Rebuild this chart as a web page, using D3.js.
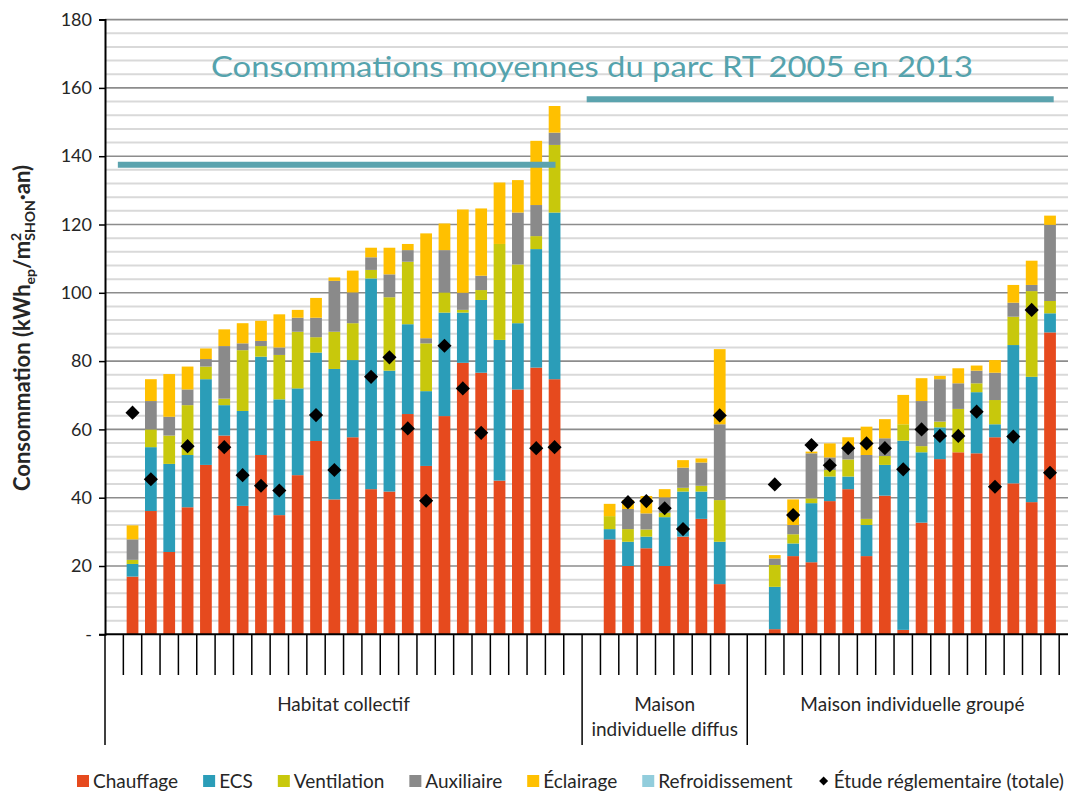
<!DOCTYPE html>
<html>
<head>
<meta charset="utf-8">
<script src="https://cdn.jsdelivr.net/npm/d3@7"></script>
<style>
body { margin: 0; background: #fff; }
text { font-family: Lato, "Open Sans", sans-serif; fill: #262626; }
</style>
</head>
<body>
<svg id="chart" width="1068" height="792"></svg>
<script>
// groups on the category axis
const groupNames = [["Habitat collectif"], ["Maison", "individuelle diffus"], ["Maison individuelle groupé"]];
const groupSizes = [24, 7, 16];

// stacked consumption per bar (kWh_ep/m².an), one value per bar
const chauffage = [
    16.9, 36.1, 24.1, 37.2, 49.6, 58.2, 37.6, 52.5, 34.9, 46.6, 56.6, 39.5,
    57.7, 42.5, 41.8, 64.5, 49.3, 63.9, 79.5, 76.6, 45.0, 71.7, 78.1, 74.7,
    27.8, 20.0, 25.2, 20.0, 28.6, 33.8, 14.7,
    1.5, 22.9, 21.1, 39.0, 42.5, 22.9, 40.6, 1.3, 32.7, 51.3, 53.3, 53.0, 57.7, 44.2, 38.7, 88.4
];
const ecs = [
    3.7, 18.7, 25.8, 15.3, 25.1, 8.9, 27.8, 28.8, 33.9, 25.4, 25.9, 38.2,
    22.6, 61.7, 35.4, 26.3, 21.9, 30.3, 14.7, 21.3, 41.2, 19.4, 34.7, 48.8,
    3.0, 7.1, 3.4, 14.3, 13.2, 8.0, 12.4,
    12.4, 3.7, 17.3, 7.2, 3.7, 9.1, 9.0, 55.4, 20.6, 9.3, 0, 17.9, 3.8, 40.5, 36.7, 5.6
];
const ventilation = [
    1.2, 5.2, 8.3, 14.6, 3.7, 1.9, 17.8, 3.1, 13.0, 16.6, 4.5, 10.9,
    10.8, 2.5, 21.5, 18.3, 14.0, 5.9, 0.8, 2.9, 28.1, 17.2, 3.8, 19.8,
    3.8, 3.7, 2.1, 1.3, 1.1, 1.7, 12.2,
    6.4, 2.7, 1.4, 1.9, 5.0, 1.8, 2.6, 4.8, 1.8, 1.7, 12.7, 2.6, 7.1, 8.3, 25.1, 3.6
];
const auxiliaire = [
    6.0, 8.3, 5.5, 4.6, 2.2, 15.4, 2.0, 1.5, 2.2, 4.1, 5.7, 14.9,
    9.0, 3.7, 6.7, 3.4, 1.5, 12.4, 5.0, 4.2, 0, 15.2, 9.1, 3.6,
    0, 5.9, 4.7, 4.5, 5.9, 6.8, 22.2,
    1.9, 2.7, 13.2, 3.7, 2.8, 18.7, 5.2, 0, 13.2, 12.4, 7.5, 3.7, 8.0, 4.1, 1.8, 22.3
];
const eclairage = [
    4.1, 6.4, 12.5, 6.7, 3.1, 4.9, 5.9, 5.9, 9.7, 2.3, 5.8, 1.0,
    6.4, 2.8, 7.8, 1.8, 30.7, 7.8, 24.4, 19.7, 18.0, 9.5, 18.8, 7.8,
    3.6, 2.6, 5.1, 2.4, 2.2, 1.2, 22.0,
    1.0, 7.5, 0.5, 4.1, 3.7, 8.3, 5.6, 8.6, 6.7, 1.0, 4.4, 1.5, 3.7, 5.2, 7.1, 2.7
];
const refroidissement = new Array(47).fill(0);

// regulatory study total (diamonds), null where not shown
const etude = [
    64.9, 45.4, null, 55.1, null, 54.8, 46.6, 43.5, 42.1, null, 64.2, 48.1,
    null, 75.4, 81.1, 60.3, 39.1, 84.5, 72.0, 59.0, null, null, 54.5, 54.8,
    null, 38.7, 39.0, 36.9, 30.8, null, 64.1,
    43.9, 34.9, 55.4, 49.5, 54.5, 55.9, 54.5, 48.3, 60.0, 58.1, 58.1, 65.2, 43.2, 57.9, 95.0, 47.3
];

// average consumption of the stock, per group set
const moyennes = [137.5, 156.7];

const seriesNames = ["Chauffage", "ECS", "Ventilation", "Auxiliaire", "Éclairage", "Refroidissement"];
const seriesColors = ["#e64a1e", "#2b9db8", "#c8c80c", "#8a8a8a", "#ffc000", "#92cddc"];
const seriesValues = [chauffage, ecs, ventilation, auxiliaire, eclairage, refroidissement];

const yTicks = [0, 20, 40, 60, 80, 100, 120, 140, 160, 180];

/* * * * * * * * * * * * * *
*       Layout             *
* * * * * * * * * * * * * */

const svg = d3.select("#chart");
const plotLeft = 105, plotTop = 19.6, plotBottom = 634.3;
const slotW = 18.35;
const plotRight = 1068;

// build slots: one empty slot at each end of a group
let slots = [];
let bars = [];
let groupBounds = [0];
let k = 0;
groupSizes.forEach((n, gi) => {
    slots.push("pad" + gi + "a");
    for (let i = 0; i < n; i++) {
        let id = "b" + k;
        slots.push(id);
        let row = {id: id, etude: etude[k], stack: []};
        let y0 = 0;
        seriesValues.forEach((arr, si) => {
            row.stack.push({s: si, y0: y0, y1: y0 + arr[k]});
            y0 += arr[k];
        });
        bars.push(row);
        k++;
    }
    slots.push("pad" + gi + "b");
    groupBounds.push(slots.length);
});

const x = d3.scaleBand()
    .domain(slots)
    .range([plotLeft, plotLeft + slots.length * slotW]);

const y = d3.scaleLinear()
    .domain([0, 180])
    .range([plotBottom, plotTop]);

// minor grid
let minor = d3.range(4, 180, 4).filter(v => v % 20 !== 0);
svg.append("g").selectAll("line").data(minor).join("line")
    .attr("x1", plotLeft).attr("x2", plotRight)
    .attr("y1", d => y(d)).attr("y2", d => y(d))
    .attr("stroke", "#d9d9d9").attr("stroke-width", 2);

// major grid
svg.append("g").selectAll("line").data(yTicks.slice(1)).join("line")
    .attr("x1", plotLeft).attr("x2", plotRight)
    .attr("y1", d => y(d)).attr("y2", d => y(d))
    .attr("stroke", "#8c8c8c").attr("stroke-width", 1.6);

// title
svg.append("text")
    .attr("x", 592).attr("y", 77)
    .attr("text-anchor", "middle")
    .attr("font-size", 29)
    .attr("textLength", 762)
    .attr("lengthAdjust", "spacingAndGlyphs")
    .style("fill", "#55a3ad")
    .text("Consommations moyennes du parc RT 2005 en 2013");

// stacked bars
const barW = x.bandwidth() * 0.64;
let barG = svg.append("g").selectAll("g").data(bars).join("g");
barG.selectAll("rect").data(d => d.stack.filter(s => s.y1 > s.y0).map(s => ({id: d.id, ...s}))).join("rect")
    .attr("x", d => x(d.id) + (x.bandwidth() - barW) / 2)
    .attr("width", barW)
    .attr("y", d => y(d.y1))
    .attr("height", d => y(d.y0) - y(d.y1))
    .attr("fill", d => seriesColors[d.s]);

// average lines (span in slot units)
const moyenneSpans = [[0.7, 24.55], [26.25, 51.7]];
svg.append("g").selectAll("line").data(moyennes).join("line")
    .attr("x1", (d, i) => plotLeft + moyenneSpans[i][0] * slotW)
    .attr("x2", (d, i) => plotLeft + moyenneSpans[i][1] * slotW)
    .attr("y1", d => y(d)).attr("y2", d => y(d))
    .attr("stroke", "#5ba3ae").attr("stroke-width", 6);

// diamonds
const diamond = d3.symbol().type(d3.symbolSquare).size(100);
svg.append("g").selectAll("path").data(bars.filter(d => d.etude != null)).join("path")
    .attr("d", diamond)
    .attr("transform", d => `translate(${x(d.id) + x.bandwidth() / 2},${y(d.etude)}) rotate(45)`)
    .attr("fill", "#000");

// y axis
let yAxis = svg.append("g")
    .attr("transform", `translate(${plotLeft},0)`)
    .call(d3.axisLeft(y).tickValues(yTicks).tickSize(6).tickPadding(7)
        .tickFormat(d => d === 0 ? "-" : d));
yAxis.select(".domain").attr("stroke", "#000").attr("stroke-width", 2);
yAxis.selectAll(".tick line").attr("stroke", "#000").attr("stroke-width", 1.5);
yAxis.selectAll(".tick text").attr("font-size", 18).style("font-family", "Lato, sans-serif").style("fill", "#262626");

// x axis line
svg.append("line")
    .attr("x1", plotLeft).attr("x2", plotRight)
    .attr("y1", plotBottom).attr("y2", plotBottom)
    .attr("stroke", "#000").attr("stroke-width", 2);

// category ticks
let bounds = d3.range(slots.length + 1);
svg.append("g").selectAll("line").data(bounds).join("line")
    .attr("x1", d => plotLeft + d * slotW).attr("x2", d => plotLeft + d * slotW)
    .attr("y1", plotBottom)
    .attr("y2", d => groupBounds.includes(d) ? 745 : 675)
    .attr("stroke", "#000").attr("stroke-width", 1.5);

// group labels
groupNames.forEach((lines, gi) => {
    let cx = plotLeft + (groupBounds[gi] + groupBounds[gi + 1]) / 2 * slotW;
    let t = svg.append("text")
        .attr("x", cx).attr("y", 711)
        .attr("text-anchor", "middle")
        .attr("font-size", 19);
    lines.forEach((l, li) => {
        t.append("tspan").attr("x", cx).attr("dy", li === 0 ? 0 : 25).text(l);
    });
});

// y axis title
let yt = svg.append("text")
    .attr("transform", "translate(30,328) rotate(-90)")
    .attr("text-anchor", "middle")
    .attr("font-size", 22)
    .attr("font-weight", "bold");
yt.append("tspan").text("Consommation (kWh");
yt.append("tspan").attr("font-size", 14).attr("dy", 5).text("ep");
yt.append("tspan").attr("dy", -5).text("/m");
yt.append("tspan").attr("font-size", 14).attr("dy", -9).text("2");
yt.append("tspan").attr("font-size", 14).attr("dy", 14).attr("dx", -8).text("SHON");
yt.append("tspan").attr("dy", -5).text("·an)");

// legend
let legend = svg.append("g").attr("transform", "translate(77,781)");
let lx = 0;
seriesNames.concat(["Étude réglementaire (totale)"]).forEach((name, i) => {
    let g = legend.append("g").attr("transform", `translate(${lx},0)`);
    if (i < seriesNames.length) {
        g.append("rect").attr("x", 0).attr("y", -6).attr("width", 12).attr("height", 12)
            .attr("fill", seriesColors[i]);
    } else {
        g.append("path").attr("d", d3.symbol().type(d3.symbolSquare).size(40))
            .attr("transform", "translate(6,0) rotate(45)").attr("fill", "#000");
    }
    let t = g.append("text").attr("x", 16).attr("y", 7).attr("font-size", 19).text(name);
    lx += 16 + t.node().getComputedTextLength() + 25;
});
</script>
</body>
</html>
